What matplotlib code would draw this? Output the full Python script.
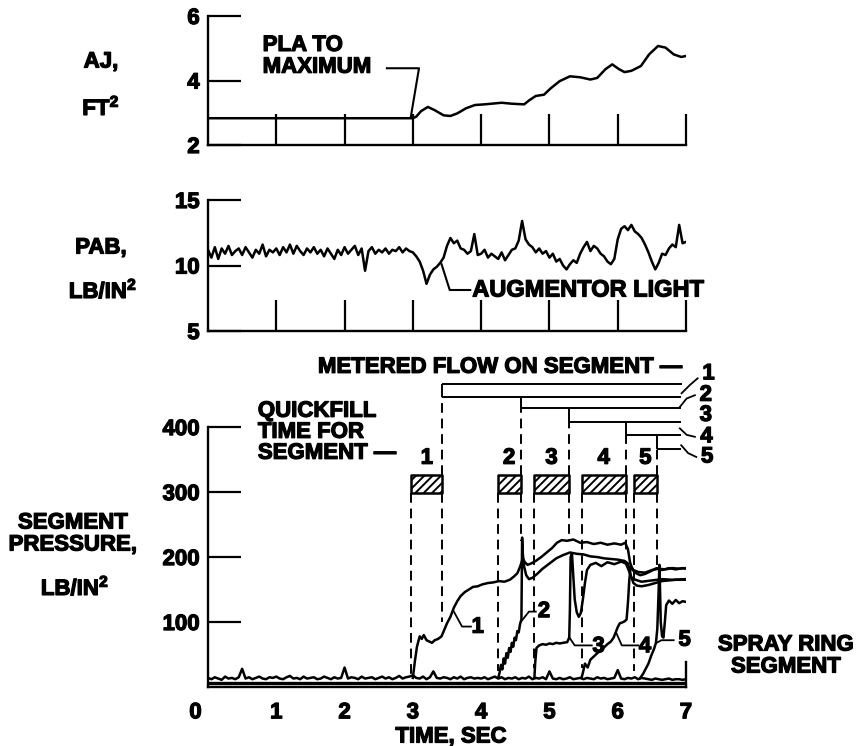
import numpy as np
import matplotlib.pyplot as plt
import matplotlib.patheffects as pe
from matplotlib.text import Text

plt.rcParams['font.family'] = ['Liberation Sans', 'DejaVu Sans']
plt.rcParams['font.weight'] = 'bold'
plt.rcParams['font.size'] = 16
plt.rcParams['mathtext.fontset'] = 'custom'
plt.rcParams['mathtext.rm'] = 'Liberation Sans:bold'
plt.rcParams['mathtext.it'] = 'Liberation Sans:bold'
plt.rcParams['mathtext.bf'] = 'Liberation Sans:bold'
plt.rcParams['hatch.linewidth'] = 1.4

# ---- AJ (nozzle area), FT^2
aj_t = [0, 3.0, 3.05, 3.12, 3.22, 3.32, 3.45, 3.55, 3.65, 3.78, 3.91, 4.05, 4.3, 4.45,
        4.63, 4.7, 4.8, 4.92, 5.02, 5.15, 5.3, 5.45, 5.6, 5.7, 5.82, 5.92, 6.02, 6.1,
        6.2, 6.34, 6.46, 6.59, 6.7, 6.82, 6.93, 7.0]
aj_v = [2.83, 2.83, 2.88, 3.05, 3.18, 3.08, 2.92, 2.9, 2.98, 3.14, 3.24, 3.26, 3.31, 3.28,
        3.26, 3.38, 3.52, 3.56, 3.76, 3.98, 4.13, 4.1, 4.03, 4.08, 4.35, 4.5, 4.35, 4.26,
        4.3, 4.45, 4.81, 5.07, 5.02, 4.81, 4.73, 4.76]

# ---- PAB, LB/IN^2, sampled every 0.05 s
pab_t = np.arange(0, 7.001, 0.05)
pab_v = [11.2, 10.6, 11.4, 10.5, 11.3, 10.9, 11.5, 10.8, 11.1, 11.3,
         10.8, 11.4, 11.0, 10.6, 11.2, 10.9, 11.6, 10.7, 11.2, 11.0,
         11.3, 10.8, 11.4, 11.0, 11.6, 10.9, 11.5, 11.1, 10.8, 11.3,
         11.0, 11.4, 10.9, 11.2, 10.7, 11.3, 10.9, 10.5, 11.2, 10.8,
         11.4, 10.9, 11.2, 11.5, 10.8, 11.3, 9.6, 11.1, 11.4, 10.9,
         11.2, 11.0, 11.3, 10.9, 11.2, 11.1, 11.4, 11.0, 11.3, 11.1,
         11.0, 10.7, 10.3, 9.6, 8.6, 9.3, 9.7, 9.9, 10.2, 10.6,
         11.5, 12.1, 11.7, 11.9, 11.3, 11.2, 10.9, 11.1, 12.4, 10.8,
         10.9, 11.2, 10.6, 10.9, 10.7, 10.5, 11.0, 10.4, 10.8, 11.2,
         11.3, 11.9, 13.4, 12.0, 11.6, 11.4, 11.0, 11.3, 10.9, 11.1,
         10.6, 10.9, 10.3, 10.5, 10.0, 9.7, 10.1, 10.4, 10.2, 10.9,
         11.4, 11.8, 11.1, 11.5, 11.3, 10.9, 10.7, 10.3, 10.1, 10.5,
         12.0, 12.8, 13.0, 12.7, 13.1, 12.6, 12.4, 12.1, 11.6, 11.0,
         10.3, 9.7, 10.2, 10.9, 10.8, 11.3, 11.6, 11.4, 13.1, 11.7,
         11.8]

# ---- segment pressures, LB/IN^2
base_t = np.arange(0, 7.001, 0.05)
base_v = [14, 12, 15, 13, 11, 16, 13, 14, 12, 15,
          28, 13, 15, 12, 14, 16, 13, 12, 15, 14,
          16, 13, 12, 15, 17, 13, 14, 12, 16, 13,
          14, 15, 12, 13, 16, 14, 12, 15, 13, 14,
          30, 13, 15, 14, 12, 16, 13, 14, 15, 12,
          14, 16, 13, 15, 12, 14, 17, 13, 15, 16,
          18, 14, 13, 16, 12, 15, 24, 14, 13, 15,
          14, 12, 15, 13, 16, 12, 14, 15, 13, 14,
          13, 15, 12, 14, 16, 13, 15, 12, 14, 13,
          15, 12, 14, 13, 16, 12, 14, 13, 15, 12,
          24, 13, 12, 14, 12, 13, 15, 12, 13, 14,
          12, 14, 13, 12, 15, 13, 14, 12, 13, 14,
          26, 13, 12, 14, 13, 15, 12, 14, 13, 12,
          11, 13, 12, 11, 12, 13, 11, 12, 12, 11,
          12]
flat_t = [0, 7]
flat_v = [6, 6]

seg1 = [(3.00, 14), (3.03, 40), (3.06, 62), (3.10, 78), (3.13, 74), (3.16, 80), (3.20, 72),
        (3.24, 70), (3.28, 68), (3.32, 72), (3.37, 74), (3.42, 78), (3.46, 88), (3.50, 98),
        (3.55, 108), (3.60, 122), (3.65, 132), (3.70, 140), (3.76, 146), (3.82, 150),
        (3.88, 154), (3.95, 155), (4.02, 158), (4.10, 160), (4.18, 161), (4.26, 163),
        (4.34, 162), (4.42, 165), (4.48, 170), (4.53, 175), (4.57, 185), (4.61, 198),
        (4.64, 192), (4.68, 188), (4.73, 190), (4.80, 194), (4.88, 200), (4.96, 207),
        (5.04, 214), (5.11, 222), (5.18, 226), (5.26, 225), (5.35, 227), (5.45, 222),
        (5.55, 223), (5.65, 220), (5.75, 222), (5.85, 219), (5.95, 221), (6.05, 219),
        (6.11, 222), (6.15, 212), (6.18, 192), (6.22, 180), (6.27, 175), (6.33, 172),
        (6.40, 174), (6.48, 178), (6.57, 183), (6.65, 180), (6.75, 183), (6.85, 181),
        (6.95, 183), (7.00, 182)]
seg2 = [(4.25, 14), (4.27, 22), (4.29, 34), (4.31, 27), (4.33, 44), (4.35, 36), (4.37, 52),
        (4.39, 45), (4.41, 60), (4.43, 54), (4.45, 68), (4.47, 62), (4.49, 76), (4.51, 72),
        (4.53, 86), (4.55, 84), (4.57, 97), (4.59, 104), (4.60, 230), (4.61, 205),
        (4.63, 185), (4.66, 172), (4.70, 166), (4.75, 168), (4.82, 174), (4.90, 182),
        (5.00, 190), (5.10, 198), (5.20, 203), (5.30, 207), (5.40, 205), (5.50, 204),
        (5.60, 201), (5.70, 200), (5.80, 198), (5.90, 197), (6.00, 196), (6.10, 194),
        (6.15, 190), (6.19, 172), (6.23, 160), (6.28, 156), (6.35, 155), (6.45, 157),
        (6.55, 160), (6.65, 163), (6.75, 164), (6.85, 165), (7.00, 165)]
seg3 = [(4.78, 14), (4.79, 35), (4.81, 60), (4.85, 64), (4.90, 66), (4.95, 65), (5.00, 67),
        (5.05, 66), (5.10, 68), (5.15, 67), (5.20, 68), (5.26, 69), (5.29, 76), (5.30, 120),
        (5.31, 200), (5.33, 205), (5.35, 170), (5.37, 135), (5.40, 115), (5.43, 108),
        (5.46, 114), (5.49, 135), (5.52, 160), (5.55, 180), (5.60, 188), (5.68, 191),
        (5.76, 186), (5.85, 192), (5.95, 189), (6.05, 193), (6.12, 190), (6.16, 180),
        (6.20, 168), (6.26, 165), (6.35, 162), (6.50, 164), (6.65, 166), (6.80, 165),
        (7.00, 166)]
seg4 = [(5.47, 14), (5.49, 22), (5.52, 36), (5.56, 30), (5.60, 42), (5.65, 47), (5.70, 52),
        (5.75, 56), (5.80, 61), (5.85, 66), (5.90, 70), (5.94, 76), (5.97, 84), (6.00, 92),
        (6.03, 98), (6.06, 99), (6.10, 101), (6.13, 104), (6.15, 130), (6.17, 165),
        (6.19, 186), (6.23, 180), (6.30, 177), (6.40, 176), (6.50, 180), (6.60, 182),
        (6.70, 181), (6.80, 183), (6.90, 182), (7.00, 183)]
seg5 = [(6.33, 14), (6.37, 20), (6.41, 28), (6.45, 36), (6.49, 48), (6.53, 58), (6.56, 68),
        (6.58, 90), (6.60, 150), (6.61, 188), (6.62, 150), (6.63, 100), (6.65, 78),
        (6.67, 76), (6.69, 100), (6.71, 126), (6.75, 133), (6.80, 128), (6.85, 134),
        (6.90, 129), (6.95, 132), (7.00, 131)]
segments = [seg1, seg2, seg3, seg4, seg5]

# quickfill windows and metered flow steps
qf_start = [2.98, 4.24, 4.77, 5.47, 6.24]
qf_end = [3.43, 4.58, 5.29, 6.12, 6.57]
flow_levels = [467, 447, 429, 408, 388, 367]
flow_stop = 6.93
dash_low_left = [20, 25, 30, 30, 25]
dash_low_right = [100, 225, 225, 210, 185]
box_lo, box_hi = 298, 326

fig = plt.figure(figsize=(8.58, 7.46), dpi=100)
W, H = 858.0, 746.0

def axrect(left, right, top, bottom):
    return [left / W, 1 - bottom / H, (right - left) / W, (bottom - top) / H]

ax1 = fig.add_axes(axrect(208, 686, 16, 145))
ax2 = fig.add_axes(axrect(208, 686, 200, 331))
ax3 = fig.add_axes(axrect(208, 686, 340, 687))

for ax in (ax1, ax2, ax3):
    ax.spines['top'].set_visible(False)
    ax.spines['right'].set_visible(False)
    for s in ('left', 'bottom'):
        ax.spines[s].set_linewidth(1.7)
    ax.set_xlim(0, 7)

# top panel
ax1.plot(aj_t, aj_v, color='black', lw=1.8)
ax1.set_ylim(2, 6)
ax1.set_yticks([2, 4, 6])
ax1.set_xticks(range(1, 8))
ax1.tick_params(axis='y', direction='in', length=24, width=1.6, pad=6)
ax1.tick_params(axis='x', direction='in', length=22, width=1.6, labelbottom=False)
ax1.text(0.8, 4.75, 'PLA TO\nMAXIMUM', ha='left', va='center', linespacing=1.05)
ax1.plot([2.62, 3.09, 2.97], [4.38, 4.38, 2.87], color='black', lw=1.5)

# middle panel
ax2.plot(pab_t, pab_v, color='black', lw=1.8)
ax2.set_ylim(5, 15)
ax2.set_yticks([5, 10, 15])
ax2.set_xticks(range(1, 8))
ax2.tick_params(axis='y', direction='in', length=24, width=1.6, pad=6)
ax2.tick_params(axis='x', direction='in', length=22, width=1.6, labelbottom=False)
ax2.plot([3.42, 3.54, 3.84], [10.1, 8.13, 8.13], color='black', lw=1.5)
ax2.text(3.87, 8.13, 'AUGMENTOR LIGHT', ha='left', va='center', fontsize=17)

# bottom panel
ax3.set_ylim(0, 534)
ax3.spines['left'].set_bounds(0, 400)
ax3.spines['right'].set_visible(True)
ax3.spines['right'].set_bounds(0, 38)
ax3.spines['right'].set_linewidth(1.7)
ax3.set_yticks([100, 200, 300, 400])
ax3.set_xticks(range(1, 8))
ax3.tick_params(axis='y', direction='in', length=24, width=1.6, pad=6)
ax3.tick_params(axis='x', length=0, pad=11)
ax3.annotate('0', xy=(0, 0), xytext=(-9, -11), textcoords='offset points',
             ha='center', va='top')

ax3.plot(flat_t, flat_v, color='black', lw=2.4)
ax3.plot(base_t, base_v, color='black', lw=1.8)
for seg in segments:
    arr = np.array(seg)
    ax3.plot(arr[:, 0], arr[:, 1], color='black', lw=1.8)

# quickfill boxes
ax3.broken_barh([(s, e - s) for s, e in zip(qf_start, qf_end)], (box_lo, box_hi - box_lo),
                facecolors='white', edgecolors='black', hatch='////', lw=1.8)
for i, (s, e) in enumerate(zip(qf_start, qf_end)):
    ax3.text((s + e) / 2, 352, str(i + 1), ha='center', va='center')

dash = dict(color='black', lw=1.4, dashes=(5, 3))
for i, (s, e) in enumerate(zip(qf_start, qf_end)):
    ax3.plot([s, s], [box_lo, dash_low_left[i]], **dash)
    ax3.plot([e, e], [box_lo, dash_low_right[i]], **dash)
    ax3.plot([e, e], [box_hi, flow_levels[i + 1]], **dash)

# metered flow steps
ax3.hlines(flow_levels[0], qf_end[0], flow_stop + 0.01, color='black', lw=1.4)
for i, e in enumerate(qf_end):
    ax3.hlines(flow_levels[i + 1], e, flow_stop, color='black', lw=1.4)
    ax3.vlines(e, flow_levels[i + 1], flow_levels[i], color='black', lw=1.4)

ax3.text(1.61, 492, 'METERED FLOW ON SEGMENT —', ha='left', va='center')
lead = dict(color='black', lw=1.3, clip_on=False)
ax3.plot([6.935, 7.06, 7.17], [452, 465, 475], **lead)
ax3.plot([6.91, 7.01, 7.13], [431, 444, 449], **lead)
ax3.plot([6.91, 7.01, 7.13], [398, 388, 385], **lead)
ax3.plot([6.93, 7.03, 7.15], [372, 360, 354], **lead)
for lab, (x, y) in zip('12345', [(7.33, 482), (7.29, 449), (7.29, 418), (7.3, 385), (7.31, 354)]):
    ax3.text(x, y, lab, ha='center', va='center')

ax3.text(0.73, 392, 'QUICKFILL\nTIME FOR\nSEGMENT —', ha='left', va='center', linespacing=1.0)

# curve labels
ax3.plot([3.59, 3.72, 3.85], [118, 93, 93], **lead)
ax3.plot([4.58, 4.70, 4.80], [100, 116, 116], **lead)
ax3.plot([5.30, 5.37, 5.62], [75, 64, 64], **lead)
ax3.plot([5.98, 6.06, 6.30], [83, 64, 64], **lead)
ax3.plot([6.57, 6.64, 6.82], [68, 72, 72], **lead)
for lab, (x, y) in zip('12345', [(3.95, 92), (4.92, 116), (5.72, 62), (6.40, 62), (6.98, 72)]):
    ax3.text(x, y, lab, ha='center', va='center')

# axis titles
fig.text(101 / W, 1 - 62 / H, 'AJ,', ha='center', va='center')
fig.text(101 / W, 1 - 107 / H, 'FT$^{2}$', ha='center', va='center')
fig.text(101 / W, 1 - 248 / H, 'PAB,', ha='center', va='center')
fig.text(103 / W, 1 - 290 / H, 'LB/IN$^{2}$', ha='center', va='center')
fig.text(73 / W, 1 - 523 / H, 'SEGMENT', ha='center', va='center')
fig.text(73 / W, 1 - 545 / H, 'PRESSURE,', ha='center', va='center')
fig.text(75 / W, 1 - 587 / H, 'LB/IN$^{2}$', ha='center', va='center')
fig.text(786 / W, 1 - 645 / H, 'SPRAY RING', ha='center', va='center')
fig.text(786 / W, 1 - 667 / H, 'SEGMENT', ha='center', va='center')
fig.text(451 / W, 1 - 737 / H, 'TIME, SEC', ha='center', va='center')

# heavier lettering, like the original typeset figure
for t in fig.findobj(Text):
    t.set_path_effects([pe.withStroke(linewidth=0.9, foreground='black')])

fig.savefig('out.png', dpi=100)
